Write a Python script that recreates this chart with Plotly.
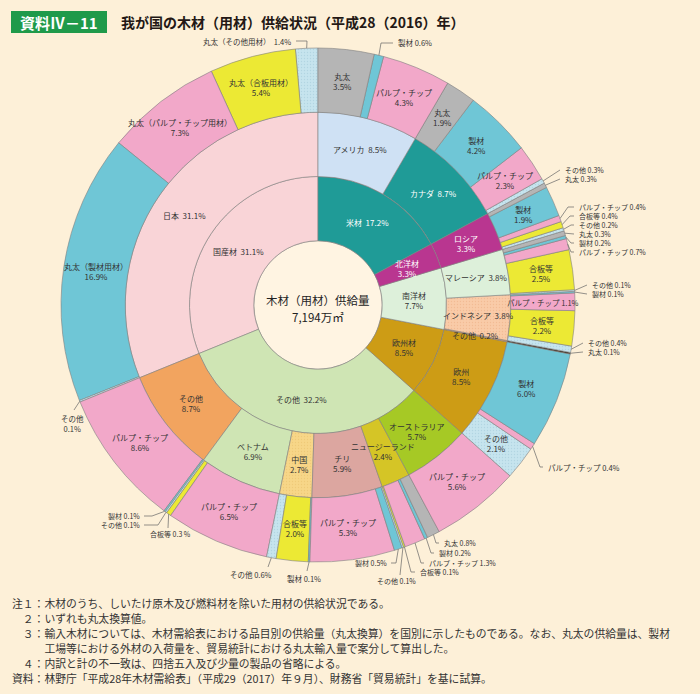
import math
import plotly.graph_objects as go

# ---------------- data ----------------
group_names = ["米材", "北洋材", "南洋材", "欧州材", "その他", "国産材"]
group_pct = [17.2, 3.3, 7.7, 8.5, 32.2, 31.1]

country_names = ["アメリカ", "カナダ", "ロシア", "マレーシア", "インドネシア", "その他",
                 "欧州", "オーストラリア", "ニュージーランド", "チリ", "中国", "ベトナム",
                 "その他", "日本"]
country_group = [0, 0, 1, 2, 2, 2, 3, 4, 4, 4, 4, 4, 4, 5]
country_pct = [8.5, 8.7, 3.3, 3.8, 3.8, 0.2, 8.5, 5.7, 2.4, 5.9, 2.7, 6.9, 8.7, 31.1]

item_country = [0, 0, 0,
                1, 1, 1, 1,
                2, 2, 2, 2, 2,
                3, 3, 3, 3, 3,
                4, 4, 4, 4,
                5,
                6, 6, 6,
                7,
                8, 8, 8, 8,
                9, 9, 9,
                10, 10, 10,
                11, 11, 11,
                12, 12,
                13, 13, 13, 13, 13]
item_names = ["丸太", "製材", "パルプ・チップ",
              "丸太", "製材", "パルプ・チップ", "その他",
              "丸太", "製材", "パルプ・チップ", "合板等", "その他",
              "丸太", "製材", "パルプ・チップ", "合板等", "その他",
              "製材", "パルプ・チップ", "合板等", "その他",
              "丸太",
              "製材", "パルプ・チップ", "その他",
              "パルプ・チップ",
              "丸太", "製材", "パルプ・チップ", "合板等",
              "その他", "製材", "パルプ・チップ",
              "製材", "合板等", "その他",
              "パルプ・チップ", "合板等", "その他",
              "製材", "パルプ・チップ",
              "その他", "丸太（製材用材）", "丸太（パルプ・チップ用材）", "丸太（合板用材）", "丸太（その他用材）"]
item_values = [3.5, 0.6, 4.3,
               1.9, 4.2, 2.3, 0.3,
               0.3, 1.9, 0.4, 0.4, 0.2,
               0.3, 0.2, 0.7, 2.5, 0.1,
               0.1, 1.1, 2.2, 0.4,
               0.1,
               6.0, 0.4, 2.1,
               5.6,
               0.8, 0.2, 1.3, 0.1,
               0.1, 0.5, 5.3,
               0.1, 2.0, 0.6,
               6.5, 0.3, 0.1,
               0.1, 8.6,
               0.1, 16.9, 7.3, 5.4, 1.4]

center_label = "木材（用材）供給量"
center_total = "7,194万㎡"

title_tag = "資料Ⅳ－11"
title_text = "我が国の木材（用材）供給状況（平成28（2016）年）"
notes = [
    "注１：木材のうち、しいたけ原木及び燃料材を除いた用材の供給状況である。",
    "　２：いずれも丸太換算値。",
    "　３：輸入木材については、木材需給表における品目別の供給量（丸太換算）を国別に示したものである。なお、丸太の供給量は、製材",
    "　　　工場等における外材の入荷量を、貿易統計における丸太輸入量で案分して算出した。",
    "　４：内訳と計の不一致は、四捨五入及び少量の製品の省略による。",
    "資料：林野庁「平成28年木材需給表」（平成29（2017）年９月）、財務省「貿易統計」を基に試算。",
]

# ---------------- styles / layout ----------------
W, H = 700, 694
CX, CY, R = 318, 305, 257
RW = R / 4.0
BG = "#fdf0d8"
FONT = "Noto Sans CJK JP"
TXT = "#333333"
LINE = "#808080"
ROOT_COLOR = "#fff4e2"
RING_FS = 8
CALL_FS = 7.5
DENSE_FS = 7

group_colors = ["#1f9b97", "#b93690", "#ddf0da", "#cd9c15", "#cfe5b4", "#f9d4d7"]
country_colors = ["#cfe1f4", "#1f9b97", "#b93690", "#ddf0da", "#f9cba8", "#e8925a",
                  "#cd9c15", "#a6c925", "#d5c526", "#dca6a0", "#f7d688", "#cfe5b4",
                  "#f2a45f", "#f9d4d7"]
item_color_map = {
    "丸太": "#b5b5b5", "製材": "#6fc6d6", "パルプ・チップ": "#f2a8c9",
    "合板等": "#ece934", "その他": "#c6e4ee",
    "丸太（製材用材）": "#6fc6d6", "丸太（パルプ・チップ用材）": "#f2a8c9",
    "丸太（合板用材）": "#ece934", "丸太（その他用材）": "#c6e4ee",
}
dotted_items = {"その他", "丸太（その他用材）"}
dotted_countries = {4, 10}
special_leaf_color = {21: "#3f3022"}

white_groups = {0, 1}
white_countries = {1, 2}
group_two_line = {1, 2, 3}
country_two_line = {2, 6, 7, 8, 9, 10, 11, 12}
outer_single_line = {18}

# callouts: leaf index -> (text x, text y, xanchor, template, leader points, font size)
callouts = {
    1: (396, 43, "left", "{n} {v}%", [(381, 43), (393, 43)], CALL_FS),
    6: (563, 170, "left", "{n} {v}%", [(560, 170)], DENSE_FS),
    7: (563, 179, "left", "{n} {v}%", [(560, 179)], DENSE_FS),
    9: (577, 207, "left", "{n} {v}%", [(568, 207), (574, 207)], DENSE_FS),
    10: (577, 216, "left", "{n} {v}%", [(570, 216), (574, 216)], DENSE_FS),
    11: (577, 225, "left", "{n} {v}%", [(571, 225), (574, 225)], DENSE_FS),
    12: (577, 234, "left", "{n} {v}%", [(574, 234)], DENSE_FS),
    13: (577, 243, "left", "{n} {v}%", [(571, 243), (574, 243)], DENSE_FS),
    14: (577, 252, "left", "{n} {v}%", [(571, 252), (574, 252)], DENSE_FS),
    16: (590, 285, "left", "{n} {v}%", [(587, 285)], DENSE_FS),
    17: (590, 294, "left", "{n} {v}%", [(587, 294)], DENSE_FS),
    20: (586, 343, "left", "{n} {v}%", [(583, 343)], DENSE_FS),
    21: (586, 352, "left", "{n} {v}%", [(583, 352)], DENSE_FS),
    23: (546, 467, "left", "{n} {v}%", [(540, 467), (543, 467)], CALL_FS),
    26: (442, 543, "left", "{n} {v}%", [(436, 543), (439, 543)], DENSE_FS),
    27: (437, 553, "left", "{n} {v}%", [(431, 553), (434, 553)], DENSE_FS),
    28: (427, 563, "left", "{n} {v}%", [(421, 563), (424, 563)], DENSE_FS),
    29: (418, 572, "left", "{n} {v}%", [(411, 572), (415, 572)], DENSE_FS),
    30: (396, 581, "center", "{n} {v}%", [(400, 575)], DENSE_FS),
    31: (389, 563, "right", "{n} {v}%", [(396, 563), (391, 563)], DENSE_FS),
    33: (304, 578, "center", "{n} {v}%", [(307, 571)], CALL_FS),
    35: (251, 574, "center", "{n} {v}%", [(268, 567)], CALL_FS),
    37: (148, 534, "left", "{n} {v} %", [(168, 528)], DENSE_FS),
    38: (142, 525, "right", "{n} {v}%", [(158, 525), (144, 525)], DENSE_FS),
    39: (142, 516, "right", "{n} {v}%", [(152, 516), (144, 516)], DENSE_FS),
    41: (72, 423, "center", "{n}<br>{v}%", [(74, 410)], CALL_FS),
    45: (293, 41, "right", "{n}\u00a0\u00a0{v}%", [(307, 41), (296, 41)], CALL_FS),
}


def xy(frac, r):
    a = 2 * math.pi * frac
    return CX + r * math.sin(a), CY - r * math.cos(a)


def px(x):
    return x / W


def py(y):
    return 1 - y / H


# spans (clockwise from 12 o'clock), derived from leaf values
total = sum(item_values)
leaf_span = []
acc = 0.0
for v in item_values:
    leaf_span.append((acc / total, (acc + v) / total))
    acc += v
country_span = []
for j in range(len(country_names)):
    ks = [k for k in range(len(item_values)) if item_country[k] == j]
    country_span.append((leaf_span[ks[0]][0], leaf_span[ks[-1]][1]))
group_span = []
for g in range(len(group_names)):
    js = [j for j in range(len(country_names)) if country_group[j] == g]
    group_span.append((country_span[js[0]][0], country_span[js[-1]][1]))

# ---------------- sunburst (siblings reversed: plotly draws counterclockwise) ----------------
ids, labels, parents, values, colors = [], [], [], [], []
pshape, pfg, pbg = [], [], []


def add(i, l, p, v, c, dotted=False, fg="#b4d6e3"):
    ids.append(i); labels.append(l); parents.append(p); values.append(v); colors.append(c)
    pshape.append("." if dotted else ""); pfg.append(fg); pbg.append(c)


add("root", center_label, "", 0, ROOT_COLOR)
for g in reversed(range(len(group_names))):
    add(f"g{g}", group_names[g], "root", 0, group_colors[g])
for j in reversed(range(len(country_names))):
    add(f"c{j}", country_names[j], f"g{country_group[j]}", 0, country_colors[j],
        dotted=(j in dotted_countries), fg="#f2bb94" if j == 4 else "#efca78")
for k in reversed(range(len(item_values))):
    c = special_leaf_color.get(k, item_color_map[item_names[k]])
    add(f"l{k}", item_names[k], f"c{item_country[k]}", item_values[k], c,
        dotted=(item_names[k] in dotted_items), fg="#b2d5e2")

fig = go.Figure(go.Sunburst(
    ids=ids, labels=labels, parents=parents, values=values,
    branchvalues="remainder", sort=False, rotation=90,
    textinfo="none", hoverinfo="skip",
    marker=dict(colors=colors, line=dict(color=LINE, width=0.6),
                pattern=dict(shape=pshape, fgcolor=pfg, bgcolor=pbg, size=3,
                             solidity=0.15, fillmode="replace")),
    leaf=dict(opacity=1),
    domain=dict(x=[(CX - R) / W, (CX + R) / W],
                y=[1 - (CY + R) / H, 1 - (CY - R) / H]),
))

annotations = []
shapes = []


def label(x, y, text, color=TXT, size=RING_FS, xanchor="center"):
    annotations.append(dict(x=px(x), y=py(y), xref="paper", yref="paper", text=text,
                            showarrow=False, xanchor=xanchor, yanchor="middle",
                            font=dict(family=FONT, size=size, color=color)))


SP = "\u00a0\u00a0"
# inner ring
for g, (a0, a1) in enumerate(group_span):
    x, y = xy((a0 + a1) / 2, 1.5 * RW)
    sep = "<br>" if g in group_two_line else SP
    label(x, y, f"{group_names[g]}{sep}{group_pct[g]:.1f}%",
          color="white" if g in white_groups else TXT)
# middle ring
for j, (a0, a1) in enumerate(country_span):
    x, y = xy((a0 + a1) / 2, 2.5 * RW)
    sep = "<br>" if j in country_two_line else SP
    label(x, y, f"{country_names[j]}{sep}{country_pct[j]:.1f}%",
          color="white" if j in white_countries else TXT)
# outer ring
for k, (a0, a1) in enumerate(leaf_span):
    v = f"{item_values[k]:.1f}"
    if k in callouts:
        tx, ty, xa, tmpl, pts, fs = callouts[k]
        label(tx, ty, tmpl.format(n=item_names[k], v=v), xanchor=xa, size=fs)
        ex, ey = xy((a0 + a1) / 2, R)
        path = f"M{px(ex)},{py(ey)}" + "".join(f" L{px(a)},{py(b)}" for a, b in pts)
        shapes.append(dict(type="path", xref="paper", yref="paper", path=path,
                           line=dict(color="#666666", width=0.7)))
    else:
        x, y = xy((a0 + a1) / 2, 3.5 * RW)
        sep = " " if k in outer_single_line else "<br>"
        label(x, y, f"{item_names[k]}{sep}{v}%", size=7.5 if k in outer_single_line else RING_FS)

# centre
label(CX, CY - 5, center_label, color="#222222", size=11.5)
label(CX, CY + 12, center_total, color="#222222", size=11.5)

# title
shapes.append(dict(type="rect", xref="paper", yref="paper", x0=px(11), x1=px(107),
                   y0=py(33), y1=py(11), fillcolor="#1f9a4a", line=dict(width=0)))
label(59, 22, f"<b>{title_tag}</b>", color="white", size=15)
label(119, 22, f"<b>{title_text}</b>", color="#231815", size=14, xanchor="left")

# notes
note_y = [603, 618, 633, 648, 663, 678]
for t, yy in zip(notes, note_y):
    label(10, yy, t, color="#333333", size=10.8, xanchor="left")

fig.update_layout(
    width=W, height=H, autosize=False,
    margin=dict(l=0, r=0, t=0, b=0),
    paper_bgcolor=BG, plot_bgcolor=BG,
    showlegend=False,
    annotations=annotations, shapes=shapes,
)

fig.write_html("out.html")
